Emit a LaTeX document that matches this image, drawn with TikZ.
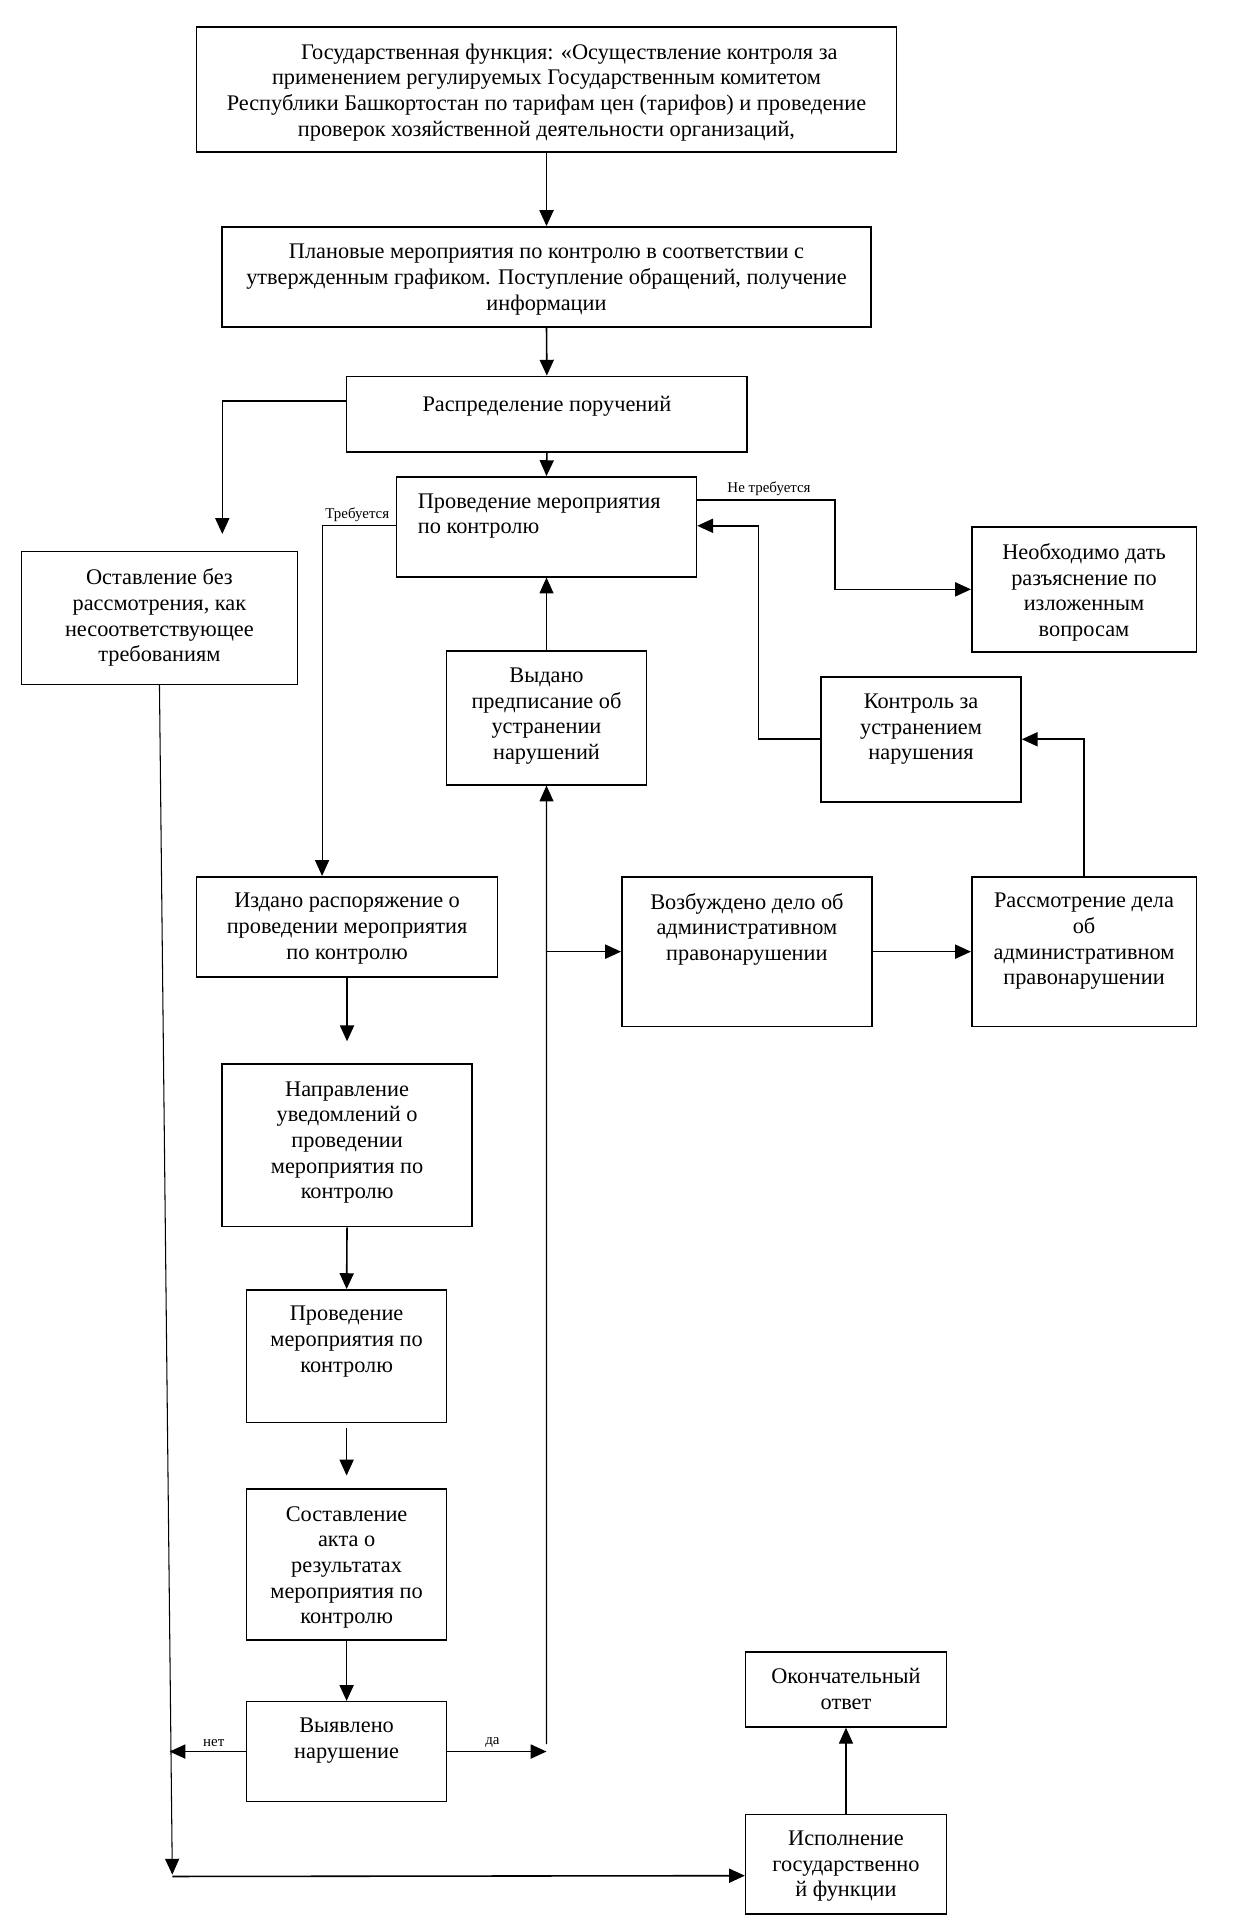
\documentclass[tikz,border=0pt]{standalone}
\usepackage{fontspec}
\setmainfont{Liberation Serif}
\usetikzlibrary{arrows.meta,calc,fit}
\newcommand\mainfs{\fontsize{12.7pt}{14.6pt}\selectfont}
\newcommand\smallfs{\fontsize{8.5pt}{10pt}\selectfont}
\begin{document}
\begin{tikzpicture}[x=0.02462cm, y=-0.02462cm,
  box/.style={draw, line width=0.9pt, inner sep=0pt},
  txt/.style={font=\mainfs, align=center, inner sep=0pt, anchor=north, yshift=-0.09cm, execute at begin node=\strut},
  lbl/.style={font=\smallfs, inner sep=0pt},
  arr/.style={line width=0.9pt, -{Triangle[length=9pt,width=8pt]}},
  arrthin/.style={line width=0.6pt, -{Triangle[length=9pt,width=8pt]}}]
\fill[white] (0,0) rectangle (1010.6,1568);
\useasboundingbox (0,0) rectangle (1010.6,1568);

% boxes
\node[box, fit={(159.8,21.8) (728.2,123.3)}] (b1) {};
\node[box, fit={(180.4,184.3) (707.6,265.5)}] (b2) {};
\node[box, fit={(281.6,305.8) (607,367)}] (b3) {};
\node[box, fit={(322.2,387.4) (565.8,468.6)}] (b4) {};
\node[box, fit={(17.4,448) (241.7,556)}] (b5) {};
\node[box, fit={(789.5,428) (971.9,529.6)}] (b6) {};
\node[box, fit={(362.8,529) (525.2,637.6)}] (b7) {};
\node[box, fit={(667,549.8) (829.5,651.4)}] (b8) {};
\node[box, fit={(159.8,712.3) (404.1,793.8)}] (b9) {};
\node[box, fit={(505.2,712.3) (708.3,834)}] (b10) {};
\node[box, fit={(789.5,712.3) (971.9,834)}] (b11) {};
\node[box, fit={(180.4,864.6) (383.5,996.6)}] (b12) {};
\node[box, fit={(200.4,1047.9) (362.8,1155.6)}] (b13) {};
\node[box, fit={(200.4,1209.9) (362.8,1332.5)}] (b14) {};
\node[box, fit={(200.4,1382.5) (362.8,1463.5)}] (b15) {};
\node[box, fit={(605.8,1342) (768.8,1403)}] (b16) {};
\node[box, fit={(605.8,1474) (768.8,1555)}] (b17) {};

% texts
\node[txt] (t1) at (444,31.6) {\hspace*{26pt}Государственная функция: «Осуществление контроля за\\применением регулируемых Государственным комитетом\\Республики Башкортостан по тарифам цен (тарифов) и проведение\\проверок хозяйственной деятельности организаций,};
\node[txt] (t2) at (444,194.5) {Плановые мероприятия по контролю в соответствии с\\утвержденным графиком. Поступление обращений, получение\\информации};
\node[txt] (t3) at (444.3,315.5) {Распределение поручений};
\node[txt, anchor=north west, align=left] (t4) at (339.2,397.1) {Проведение мероприятия\\по контролю};
\node[txt] (t5) at (129.5,458.2) {Оставление без\\рассмотрения, как\\несоответствующее\\требованиям};
\node[txt] (t6) at (880.7,437.5) {Необходимо дать\\разъяснение по\\изложенным\\вопросам};
\node[txt] (t7) at (444,538.6) {Выдано\\предписание об\\устранении\\нарушений};
\node[txt] (t8) at (748.3,559.7) {Контроль за\\устранением\\нарушения};
\node[txt] (t9) at (282,721.8) {Издано распоряжение о\\проведении мероприятия\\по контролю};
\node[txt] (t10) at (606.8,721.8) {Возбуждено дело об\\административном\\правонарушении};
\node[txt] (t11) at (880.7,721.8) {Рассмотрение дела\\об\\административном\\правонарушении};
\node[txt] (t12) at (282,874.8) {Направление\\уведомлений о\\проведении\\мероприятия по\\контролю};
\node[txt] (t13) at (281.6,1057.2) {Проведение\\мероприятия по\\контролю};
\node[txt] (t14) at (281.6,1219.9) {Составление\\акта о\\результатах\\мероприятия по\\контролю};
\node[txt] (t15) at (281.6,1391.9) {Выявлено\\нарушение};
\node[txt] (t16) at (687.3,1351.3) {Окончательный\\ответ};
\node[txt] (t17) at (687.3,1483.4) {Исполнение\\государственно\\й функции};

% labels
\node[lbl] (l1) at (290.3,418.4) {Требуется};
\node[lbl] (l2) at (624.8,396.7) {Не требуется};
\node[lbl] (l3) at (173.7,1415.7) {нет};
\node[lbl] (l4) at (400.1,1415.7) {да};

% free ends
\coordinate (a5) at (180.6,433.8);
\coordinate (ja) at (444,1417);
\coordinate (lv) at (140,1523);

% connectors
\draw[arr] (b1.south) -- (b2.north);
\draw[arr] (b2.south) -- (b3.north);
\draw[arr] (b3.south) -- (b4.north);
\draw[arr] ($(b3.north west)+(0,20.5)$) -| (a5);
\draw[arrthin] ($(b4.north west)+(0,40.4)$) -| ($(b9.north west)+(102.5,0)$);
\draw[arr] ($(b4.north east)+(0,19.3)$) -- ++(112,0) |- (b6.west);
\draw[arr] (b8.west) -| ($(b4.north east)+(49.8,40.4)$) -- ($(b4.north east)+(0,40.4)$);
\draw[arrthin] (b7.north) -- (b4.south);
\draw[arrthin] (ja) -- (b7.south);
\draw[arr] (b10.west -| b7.south) -- (b10.west);
\draw[arr] (b10.east) -- (b11.west);
\draw[arr] (b11.north) |- (b8.east);
\draw[arr] (b9.south) -- ($(b12.north)+(0,-18)$);
\draw[arr] (b12.south) -- (b13.north);
\draw[arr] ($(b13.south)+(0,3.6)$) -- ($(b14.north)+(0,-10.5)$);
\draw[arr] (b14.south) -- (b15.north);
\draw[arr] (b15.east) -- (b15.east -| ja);
\draw[arr] (b15.west) -- ($(b15.west)+(-62,0)$);
\draw[arrthin] (b5.south) -- (lv);
\draw[arr] ($(lv)+(0,1.5)$) -- ($(b17.north west)+(0,50.5)$);
\draw[arrthin] (b17.north) -- (b16.south);
\end{tikzpicture}
\end{document}
